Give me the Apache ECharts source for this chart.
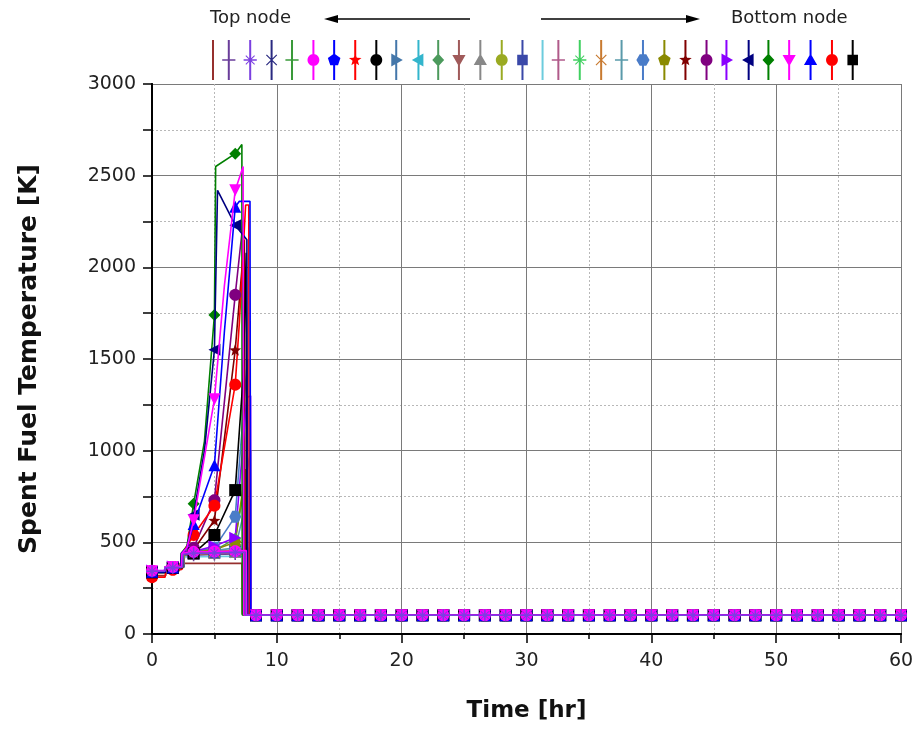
<!DOCTYPE html>
<html><head><meta charset="utf-8">
<script src="https://cdn.jsdelivr.net/npm/echarts@6/dist/echarts.min.js"></script>
<style>html,body{margin:0;padding:0;background:#fff}#c{width:918px;height:730px}</style>
</head><body><div id="c"></div>
<script>
// ---------- data ----------
const X_MIN = 0, X_MAX = 60, X_STEP = 10;
const Y_MIN = 0, Y_MAX = 3000, Y_STEP = 500;
const MARK_TIMES = [0, 1.667, 3.333, 5, 6.667];
const TAIL_TIMES = [8.333, 10, 11.667, 13.333, 15, 16.667, 18.333, 20, 21.667, 23.333, 25, 26.667,
  28.333, 30, 31.667, 33.333, 35, 36.667, 38.333, 40, 41.667, 43.333, 45, 46.667, 48.333, 50,
  51.667, 53.333, 55, 56.667, 58.333, 60];
const TAIL_TEMP = 102;
const NODE_NAMES = ['Node 1','Node 2','Node 3','Node 4','Node 5','Node 6','Node 7','Node 8',
  'Node 9','Node 10','Node 11','Node 12','Node 13','Node 14','Node 15','Node 16',
  'Node 17','Node 18','Node 19','Node 20','Node 21','Node 22','Node 23','Node 24',
  'Node 25','Node 26','Node 27','Node 28','Node 29','Node 30','Node 31','Node 32'];

const NODE_01 = [[0,318],[1.1,318],[1.15,345],[2.2,345],[2.25,385],[7.2,385],[7.23,110]];
const NODE_02 = [[0,338],[1.0,338],[1.05,360],[1.667,360],[2.4,362],[2.45,425],[3.333,430],[5,434],[6.667,436],[7.35,436],[7.38,104]];
const NODE_03 = [[0,342],[1.0,342],[1.05,362],[1.667,362],[2.45,364],[2.5,435],[3.333,440],[5,442],[6.667,445],[7.45,445],[7.48,104]];
const NODE_04 = [[0,340],[1.05,340],[1.1,365],[1.667,365],[2.5,366],[2.55,432],[3.333,438],[5,440],[6.667,446],[7.5,450],[7.53,104]];
const NODE_05 = [[0,336],[1.05,336],[1.1,363],[1.667,363],[2.5,365],[2.55,430],[3.333,436],[5,440],[6.667,448],[7.6,455],[7.63,104]];
const NODE_06 = [[0,345],[1.0,345],[1.05,366],[1.667,366],[2.4,368],[2.45,440],[3.333,448],[5,450],[6.667,452],[7.55,455],[7.58,104]];
const NODE_07 = [[0,340],[1.0,340],[1.05,364],[1.667,364],[2.45,366],[2.5,438],[3.333,444],[5,448],[6.667,455],[7.65,460],[7.68,104]];
const NODE_08 = [[0,330],[1.1,330],[1.15,360],[1.667,360],[2.5,362],[2.55,430],[3.333,438],[5,442],[6.667,450],[7.7,458],[7.73,104]];
const NODE_09 = [[0,336],[1.05,336],[1.1,362],[1.667,362],[2.5,364],[2.55,432],[3.333,440],[5,445],[6.667,452],[7.75,460],[7.78,104]];
const NODE_10 = [[0,338],[1.05,338],[1.1,363],[1.667,363],[2.55,365],[2.6,434],[3.333,440],[5,446],[6.667,455],[7.8,465],[7.83,104]];
const NODE_11 = [[0,340],[1.0,340],[1.05,362],[1.667,362],[2.5,364],[2.55,436],[3.333,442],[5,448],[6.667,458],[7.85,470],[7.88,104]];
const NODE_12 = [[0,340],[1.05,340],[1.1,364],[1.667,364],[2.55,366],[2.6,436],[3.333,442],[5,455],[6.667,520],[7.3,760],[7.9,1000],[7.95,104]];
const NODE_13 = [[0,334],[1.05,334],[1.1,360],[1.667,360],[2.45,362],[2.5,428],[3.333,434],[5,438],[6.667,442],[7.4,445],[7.43,104]];
const NODE_14 = [[0,338],[1.0,338],[1.05,362],[1.667,362],[2.5,364],[2.55,432],[3.333,438],[5,442],[6.667,447],[7.5,450],[7.53,104]];
const NODE_15 = [[0,342],[1.05,342],[1.1,364],[1.667,364],[2.5,366],[2.55,436],[3.333,442],[5,446],[6.667,452],[7.6,458],[7.63,104]];
const NODE_16 = [[0,336],[1.0,336],[1.05,362],[1.667,362],[2.55,364],[2.6,434],[3.333,440],[5,446],[6.667,456],[7.7,465],[7.73,104]];
const NODE_17 = [[0,332],[1.1,332],[1.15,358],[2.35,358],[2.4,420],[7.3,425],[7.33,104]];
const NODE_18 = [[0,340],[1.0,340],[1.05,364],[1.667,364],[2.45,366],[2.5,438],[3.333,444],[5,447],[6.667,452],[7.45,455],[7.48,104]];
const NODE_19 = [[0,344],[1.05,344],[1.1,366],[1.667,366],[2.5,368],[2.55,440],[3.333,446],[5,450],[6.667,456],[7.55,460],[7.58,104]];
const NODE_20 = [[0,338],[1.0,338],[1.05,363],[1.667,363],[2.5,365],[2.55,436],[3.333,442],[5,448],[6.667,458],[7.65,466],[7.68,104]];
const NODE_21 = [[0,340],[1.05,340],[1.1,364],[1.667,364],[2.5,366],[2.55,440],[3.333,445],[5,455],[6.667,470],[7.5,700],[7.55,104]];
const NODE_22 = [[0,342],[1.0,342],[1.05,365],[1.667,365],[2.45,367],[2.5,442],[3.333,448],[5,470],[6.667,640],[7.65,1500],[7.7,104]];
const NODE_23 = [[0,340],[1.05,340],[1.1,364],[1.667,364],[2.5,366],[2.55,440],[3.333,445],[5,460],[6.667,500],[7.5,900],[7.55,104]];
const NODE_24 = [[0,336],[1.0,336],[1.05,362],[1.667,362],[2.4,364],[2.45,440],[3.333,460],[5,620],[6.667,1550],[7.4,2150],[7.45,104]];
const NODE_25 = [[0,344],[1.0,344],[1.05,366],[1.667,366],[2.4,368],[2.45,442],[3.333,470],[5,730],[6.667,1850],[7.3,2250],[7.35,104]];
const NODE_26 = [[0,346],[1.05,346],[1.1,368],[1.667,368],[2.45,370],[2.5,444],[3.333,450],[5,480],[6.667,525],[7.6,1290],[7.9,1300],[7.93,104]];
const NODE_27 = [[0,340],[1.0,340],[1.05,364],[1.667,364],[2.3,366],[2.35,440],[2.8,470],[3.333,650],[4.2,1000],[5,1550],[5.25,2420],[6.667,2230],[7.6,2150],[7.65,104]];
const NODE_28 = [[0,338],[1.0,338],[1.05,362],[1.667,362],[2.3,364],[2.35,440],[2.8,480],[3.333,710],[4.2,1050],[5,1740],[5.1,2550],[6.667,2620],[7.2,2670],[7.23,104]];
const NODE_29 = [[0,342],[1.0,342],[1.05,364],[1.667,364],[2.35,366],[2.4,440],[2.8,470],[3.333,620],[5,1280],[5.8,1900],[6.667,2420],[7.3,2550],[7.35,104]];
const NODE_30 = [[0,340],[1.05,340],[1.1,363],[1.667,363],[2.35,365],[2.4,440],[2.8,470],[3.333,600],[5,920],[5.8,1650],[6.667,2330],[7.0,2360],[7.85,2360],[7.9,104]];
const NODE_31 = [[0,310],[1.05,310],[1.1,350],[1.667,350],[2.4,352],[2.45,440],[3.333,540],[5,700],[6.667,1360],[7.0,1700],[7.5,2340],[7.75,2340],[7.8,104]];
const NODE_32 = [[0,336],[1.05,336],[1.1,360],[1.667,360],[2.45,362],[2.5,436],[3.333,440],[5,540],[6.667,785],[7.3,1400],[7.55,2080],[7.6,104]];

const NODES = [NODE_01,NODE_02,NODE_03,NODE_04,NODE_05,NODE_06,NODE_07,NODE_08,NODE_09,NODE_10,
  NODE_11,NODE_12,NODE_13,NODE_14,NODE_15,NODE_16,NODE_17,NODE_18,NODE_19,NODE_20,NODE_21,NODE_22,
  NODE_23,NODE_24,NODE_25,NODE_26,NODE_27,NODE_28,NODE_29,NODE_30,NODE_31,NODE_32];

// ---------- styles ----------
const COLORS = ['#96302e','#6a3d9a','#7b3fe0','#2a2a80','#3a9a3a','#ff00ff','#0000ff','#ff0000',
  '#000000','#4477aa','#33b5cc','#4c9a5c','#a05a5a','#888888','#9aaa22','#3a48a8',
  '#6cccdd','#b05a8a','#40d060','#c87a30','#5a9aaa','#4a7cc8','#8a8a00','#800000',
  '#800080','#8a00ff','#000080','#008000','#ff00ff','#0000ff','#ff0000','#000000'];
const SHAPES = ['none','plus','asterisk','cross','plus','circle','pentagon','star',
  'circle','triRight','triLeft','diamond','triDown','triUp','circle','square',
  'none','plus','asterisk','cross','plus','hexagon','pentagon','star',
  'circle','triRight','triLeft','diamond','triDown','triUp','circle','square'];
const DRAW_LAST = [27, 30, 29, 6, 3]; // node numbers drawn on top

function regular(n, r, a0) { const p = []; for (let k = 0; k < n; k++) { const a = a0 + k * 2 * Math.PI / n; p.push([r * Math.cos(a), r * Math.sin(a)]); } return p; }
function starPoly() { const p = []; for (let k = 0; k < 10; k++) { const a = -Math.PI / 2 + k * Math.PI / 5; const r = k % 2 ? 0.42 : 1; p.push([r * Math.cos(a), r * Math.sin(a)]); } return p; }
const T = 0.13, D = 0.15;
const PLUS = [[-T,-1],[T,-1],[T,-T],[1,-T],[1,T],[T,T],[T,1],[-T,1],[-T,T],[-1,T],[-1,-T],[-T,-T]];
const CROSS = [[-1,-1+D],[-1+D,-1],[0,-D],[1-D,-1],[1,-1+D],[D,0],[1,1-D],[1-D,1],[0,D],[-1+D,1],[-1,1-D],[-D,0]];
const SHAPE_POLYS = {
  plus: [PLUS],
  cross: [CROSS.map(p => [p[0]*0.85, p[1]*0.85])],
  asterisk: [PLUS, CROSS.map(p => [p[0]*0.72, p[1]*0.72])],
  circle: [regular(24, 0.9, 0)],
  pentagon: [regular(5, 1, -Math.PI / 2)],
  hexagon: [regular(6, 1, 0)],
  star: [starPoly()],
  square: [[[-0.8,-0.8],[0.8,-0.8],[0.8,0.8],[-0.8,0.8]]],
  diamond: [[[0,-1],[0.9,0],[0,1],[-0.9,0]]],
  triUp: [[[0,-1],[1,0.75],[-1,0.75]]],
  triDown: [[[0,1],[-1,-0.75],[1,-0.75]]],
  triRight: [[[-0.75,-1],[1,0],[-0.75,1]]],
  triLeft: [[[0.75,-1],[0.75,1],[-1,0]]]
};
function orient(poly) { let a = 0; for (let i = 0; i < poly.length; i++) { const p = poly[i], q = poly[(i + 1) % poly.length]; a += p[0] * q[1] - q[0] * p[1]; } return a < 0 ? poly.slice().reverse() : poly; }
function polyPath(polys, cx, cy, r) {
  return polys.map(pl => orient(pl).map((p, i) => (i ? 'L' : 'M') + (cx + p[0] * r).toFixed(2) + ',' + (cy + p[1] * r).toFixed(2)).join(' ') + ' Z').join(' ');
}
function chartSymbol(shape) { return shape === 'none' ? 'none' : 'path://' + polyPath(SHAPE_POLYS[shape], 10, 10, 10); }
function legendIcon(shape) {
  const bar = polyPath([[[-1,0],[1,0],[1,40],[-1,40]]], 7, 0, 1);
  return 'path://' + bar + (shape === 'none' ? '' : ' ' + polyPath(SHAPE_POLYS[shape], 7, 20, 6.6));
}
function isMark(t) { return MARK_TIMES.concat(TAIL_TIMES).some(m => Math.abs(m - t) < 0.01); }

const FONT = 'DejaVu Sans';
const series = NODES.map((head, i) => ({
  name: NODE_NAMES[i],
  type: 'line',
  data: head.concat(TAIL_TIMES.map(t => [t, TAIL_TEMP])),
  symbol: chartSymbol(SHAPES[i]),
  symbolSize: v => isMark(v[0]) ? 12 : 0,
  showSymbol: true,
  showAllSymbol: true,
  color: COLORS[i],
  lineStyle: { width: 1.6, color: COLORS[i] },
  itemStyle: { color: COLORS[i], borderWidth: 0 },
  emphasis: { disabled: true },
  animation: false,
  z: 2 + (DRAW_LAST.indexOf(i + 1) + 1)
}));

const chart = echarts.init(document.getElementById('c'), null, { renderer: 'canvas' });
const axisCommon = {
  type: 'value',
  axisLine: { show: true, lineStyle: { color: '#000', width: 2 } },
  minorTick: { show: true, splitNumber: 2, length: 5, lineStyle: { color: '#000', width: 1.5 } }
};
chart.setOption({
  backgroundColor: '#fff',
  animation: false,
  grid: { left: 152, right: 17, top: 84, bottom: 96, containLabel: false },
  legend: {
    data: NODE_NAMES.map((n, i) => ({ name: n, icon: legendIcon(SHAPES[i]) })),
    left: 206, top: 40, padding: 0,
    itemWidth: 14, itemHeight: 40, itemGap: 7.8,
    formatter: () => '',
    selectedMode: false,
    itemStyle: { borderWidth: 0 },
    textStyle: { fontSize: 1 }
  },
  xAxis: [
    Object.assign({}, axisCommon, {
      position: 'bottom', min: X_MIN, max: X_MAX, interval: X_STEP,
      axisTick: { show: true, inside: false, length: 9, lineStyle: { color: '#000', width: 1.5 } },
      splitLine: { show: true, lineStyle: { color: '#7a7a7a', width: 1 } },
      minorSplitLine: { show: true, lineStyle: { color: '#b8b8b8', width: 1, type: [2, 2] } },
      axisLabel: { fontFamily: FONT, fontSize: 19, color: '#222', margin: 18 },
      name: 'Time [hr]', nameLocation: 'middle', nameGap: 66,
      nameTextStyle: { fontFamily: FONT, fontSize: 23, fontWeight: 'bold', color: '#111' }
    }),
    Object.assign({}, axisCommon, {
      position: 'top', min: X_MIN, max: X_MAX, interval: X_STEP,
      axisTick: { show: true, inside: true, length: 6, lineStyle: { color: '#000', width: 1.5 } },
      splitLine: { show: false }, axisLabel: { show: false }
    })
  ],
  yAxis: [
    Object.assign({}, axisCommon, {
      position: 'left', min: Y_MIN, max: Y_MAX, interval: Y_STEP,
      axisTick: { show: true, inside: false, length: 9, lineStyle: { color: '#000', width: 1.5 } },
      minorTick: { show: true, splitNumber: 2, length: 9, lineStyle: { color: '#000', width: 1.5 } },
      splitLine: { show: true, lineStyle: { color: '#7a7a7a', width: 1 } },
      minorSplitLine: { show: true, lineStyle: { color: '#b8b8b8', width: 1, type: [2, 2] } },
      axisLabel: { fontFamily: FONT, fontSize: 19, color: '#222', margin: 16, formatter: v => String(v) },
      name: 'Spent Fuel Temperature [K]', nameLocation: 'middle', nameGap: 110,
      nameTextStyle: { fontFamily: FONT, fontSize: 25, fontWeight: 'bold', color: '#111' }
    }),
    Object.assign({}, axisCommon, {
      position: 'right', min: Y_MIN, max: Y_MAX, interval: Y_STEP,
      axisTick: { show: true, inside: true, length: 6, lineStyle: { color: '#000', width: 1.5 } },
      splitLine: { show: false }, axisLabel: { show: false }
    })
  ],
  graphic: [
    { type: 'text', left: 210, top: 9, style: { text: 'Top node', font: '18px "DejaVu Sans"', fill: '#222' } },
    { type: 'text', left: 731, top: 9, style: { text: 'Bottom node', font: '18px "DejaVu Sans"', fill: '#222' } },
    { type: 'line', shape: { x1: 334, y1: 19, x2: 470, y2: 19 }, style: { stroke: '#000', lineWidth: 1.5 } },
    { type: 'polygon', shape: { points: [[324, 19], [338, 15], [338, 23]] }, style: { fill: '#000' } },
    { type: 'line', shape: { x1: 541, y1: 19, x2: 690, y2: 19 }, style: { stroke: '#000', lineWidth: 1.5 } },
    { type: 'polygon', shape: { points: [[700, 19], [686, 15], [686, 23]] }, style: { fill: '#000' } }
  ],
  series: series
});
</script></body></html>
